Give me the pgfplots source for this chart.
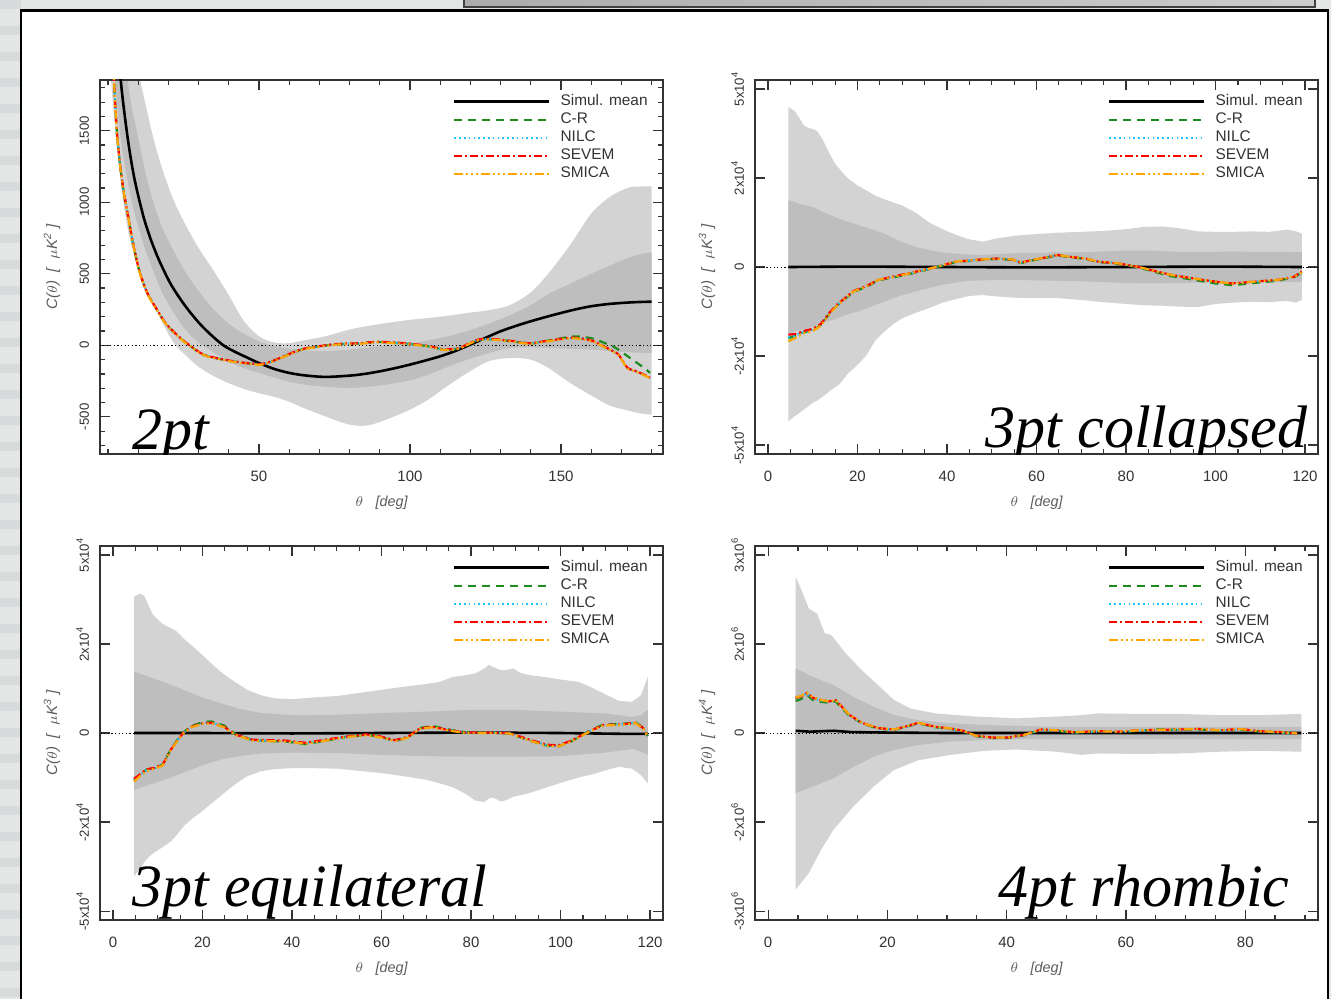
\documentclass[border=0pt]{standalone}
\usepackage{fontspec}
\setmainfont{Liberation Sans}
\newfontfamily\tnr{Liberation Serif}
\usepackage{pgfplots}
\pgfplotsset{compat=1.18}
\usepackage{pgfplotstable}
\usepgfplotslibrary{fillbetween}

\pgfdeclarelayer{bglayer}
\pgfplotsset{
  layers/mybg/.define layer set={bglayer,axis background,axis grid,axis ticks,axis lines,axis tick labels,pre main,main,axis descriptions,axis foreground}{},
  set layers=mybg,
}

\definecolor{bandlight}{HTML}{D3D3D3}
\definecolor{banddark}{HTML}{BEBEBE}
\definecolor{crgreen}{HTML}{1E8B1E}
\definecolor{nilccyan}{HTML}{1EC3FF}
\definecolor{sevemred}{HTML}{FF0000}
\definecolor{smicaorange}{HTML}{FFA500}
\definecolor{axisgray}{HTML}{333333}
\definecolor{bggray}{HTML}{E4E6E6}
\definecolor{bgstripe}{HTML}{D8DBDB}

\tikzset{
  meanline/.style={black, line width=1.3pt},
  crline/.style={crgreen, line width=1.1pt, dash pattern=on 4pt off 3pt},
  nilcline/.style={nilccyan, line width=1.1pt, dash pattern=on 0.8pt off 1.6pt},
  sevemline/.style={sevemred, line width=1.1pt, dash pattern=on 4pt off 1.5pt on 1pt off 1.5pt},
  smicaline/.style={smicaorange, line width=1.1pt, dash pattern=on 4.5pt off 1.5pt on 1pt off 1.5pt on 1pt off 1.5pt on 1pt off 1.5pt},
  zeroline/.style={black, line width=0.45pt, dash pattern=on 0.6pt off 1.2pt},
}

\newcommand{\ylab}[1]{\itshape C($\theta$)\ \ [\ \ $\mu$K\textsuperscript{#1}\ ]}

\pgfplotsset{
  panel/.style={
    scale only axis, width=281.5pt, height=187pt,
    axis line style={axisgray, line width=0.7pt},
    tick style={axisgray, line width=0.6pt},
    tick align=inside,
    major tick length=5pt, minor tick length=2.5pt,
    xticklabel style={font=\fontsize{7.5}{8}\selectfont, text=axisgray},
    yticklabel style={font=\fontsize{6.6}{7}\selectfont, text=axisgray, rotate=90, anchor=south},
    xticklabel shift=5pt, yticklabel shift=2pt,
    every axis x label/.style={at={(axis description cs:0.5,-0.131)}, anchor=center, font=\fontsize{7.2}{8}\selectfont\itshape, text=axisgray!80},
    every axis y label/.style={at={(axis description cs:-0.0853,0.5)}, rotate=90, anchor=center, font=\fontsize{7.5}{8}\selectfont, text=axisgray!80},
    xlabel={$\theta$\ \ \ [deg]},
    legend image code/.code={\draw[##1] (0pt,0pt) -- (47.5pt,0pt);},
    legend cell align=left,
    legend style={at={(rel axis cs:0.627,0.966)}, anchor=north west, draw=none, fill=none,
      inner sep=0pt, outer sep=0pt, row sep=0pt, column sep=5pt,
      font=\fontsize{7.7}{8}\selectfont, text=axisgray,
      nodes={inner sep=0pt, text height=6.5pt, text depth=2.5pt}},
  },
  ytpanel/.style={
    ymin=-4.2, ymax=4.2, ytick={-4,-2,0,2,4},
    yticklabels={{-5x10\textsuperscript{#1}},{-2x10\textsuperscript{#1}},0,{2x10\textsuperscript{#1}},{5x10\textsuperscript{#1}}},
  },
}

\pgfplotstableread{
x cr nilc sevem smica
1 2600 2600 2610 2590
1.5 2150 2150 2155 2145
2 1850 1850 1855 1845
2.5 1640 1640 1644 1636
3.1 1450 1450 1454 1446
4 1260 1260 1264 1256
5 1100 1100 1103 1097
5.8 1000 1000 1003 998
7 860 860 862 858
8.5 690 690 692 688
10.5 510 510 512 508
13 365 365 367 363
16 255 255 257 253
19 155 155 157 153
22 88 88 90 86
25 30 30 32 28
27.4 -7 -7 -5 -9
29.5 -40 -40 -38 -42
31.5 -65 -65 -63 -67
33.5 -80 -80 -78 -82
35.5 -89 -89 -87 -91
38 -100 -100 -98 -102
41 -112 -112 -110 -114
45 -124 -124 -122 -126
48 -130 -130 -128 -132
50 -135 -135 -133 -137
52 -128 -128 -126 -130
54.5 -112 -112 -110 -114
57 -90 -90 -88 -92
61 -54 -54 -52 -56
64 -30 -30 -28 -32
66.6 -19 -19 -17 -21
70 -8 -8 -6 -10
74.7 5 5 7 3
79 10 10 12 8
83 12 12 14 10
86 18 18 20 16
89.6 23 23 25 21
94 18 18 20 16
99 12 12 14 10
104.5 -2 -2 0 -4
108 -15 -15 -13 -17
111 -30 -30 -28 -32
114 -28 -28 -26 -30
116.6 -19 -19 -17 -21
119 5 5 7 3
121 25 25 27 23
123 40 40 42 38
126 42 42 44 40
129 40 40 42 38
132 32 32 34 30
134 28 28 30 26
137 18 18 20 16
140 12 12 14 10
142.5 20 20 22 18
145 30 28 30 26
149 45 40 42 38
153 60 51 53 49
156 62 48 50 46
158.5 55 40 42 38
161 45 25 27 23
164 20 -7 -5 -9
167 -5 -40 -38 -42
169 -30 -65 -63 -67
172 -75 -159 -157 -161
174 -105 -175 -173 -177
176 -135 -193 -191 -195
178 -165 -212 -210 -214
179.5 -193 -228 -226 -230
}\dataA

\pgfplotstableread{
x cr nilc sevem smica
4.55 -1.60 -1.58 -1.52 -1.67
6.4 -1.53 -1.53 -1.50 -1.58
8.2 -1.46 -1.45 -1.43 -1.48
10 -1.42 -1.41 -1.39 -1.44
11.8 -1.31 -1.30 -1.28 -1.32
13.7 -1.05 -1.04 -1.03 -1.06
15.5 -0.86 -0.85 -0.84 -0.86
17.3 -0.71 -0.70 -0.69 -0.70
19.1 -0.56 -0.55 -0.54 -0.55
21.9 -0.45 -0.44 -0.43 -0.44
24.6 -0.30 -0.29 -0.29 -0.29
28.2 -0.23 -0.22 -0.21 -0.22
31.9 -0.15 -0.14 -0.13 -0.14
35.5 -0.06 -0.05 -0.05 -0.05
38.3 0.01 0.02 0.02 0.02
41.9 0.11 0.12 0.12 0.12
46.4 0.15 0.16 0.16 0.16
51 0.18 0.19 0.19 0.19
54.6 0.16 0.17 0.17 0.17
56.5 0.09 0.10 0.10 0.10
59.2 0.15 0.16 0.16 0.16
62.8 0.22 0.23 0.23 0.23
64.7 0.26 0.27 0.27 0.27
67.4 0.22 0.23 0.23 0.23
71 0.18 0.19 0.19 0.19
73.8 0.11 0.12 0.12 0.12
78.3 0.07 0.08 0.08 0.08
82.9 -0.01 0.00 0.00 0.00
85.6 -0.09 -0.07 -0.07 -0.07
90.2 -0.21 -0.18 -0.18 -0.18
94.7 -0.28 -0.25 -0.25 -0.25
100 -0.37 -0.33 -0.33 -0.33
103.8 -0.41 -0.37 -0.37 -0.37
108.4 -0.36 -0.33 -0.33 -0.33
113.8 -0.31 -0.29 -0.29 -0.29
117.5 -0.23 -0.22 -0.22 -0.22
119.3 -0.13 -0.12 -0.10 -0.12
}\dataB

\pgfplotstableread{
x cr nilc sevem smica
4.7 -1.07 -1.05 -1.03 -1.09
6 -0.95 -0.95 -0.93 -0.97
7.5 -0.82 -0.83 -0.82 -0.85
9.3 -0.78 -0.79 -0.78 -0.80
11.1 -0.71 -0.72 -0.71 -0.73
12.9 -0.37 -0.38 -0.38 -0.39
14.5 -0.14 -0.15 -0.15 -0.16
15.7 0.01 0.0 0.0 -0.01
17.5 0.16 0.14 0.14 0.13
20.2 0.25 0.22 0.22 0.21
22 0.26 0.23 0.23 0.22
24.8 0.17 0.14 0.14 0.13
27.5 -0.03 -0.04 -0.04 -0.05
31.2 -0.16 -0.16 -0.15 -0.17
33.9 -0.18 -0.17 -0.16 -0.18
38.5 -0.19 -0.18 -0.17 -0.19
43 -0.25 -0.23 -0.22 -0.24
47.6 -0.17 -0.16 -0.15 -0.17
52.1 -0.09 -0.08 -0.08 -0.09
56.7 -0.04 -0.04 -0.03 -0.05
59.4 -0.08 -0.08 -0.07 -0.09
63 -0.18 -0.17 -0.16 -0.18
65.8 -0.11 -0.10 -0.09 -0.11
68.5 0.11 0.10 0.10 0.09
71.3 0.16 0.14 0.14 0.13
74.9 0.08 0.07 0.07 0.06
78.5 0.02 0.01 0.01 0.00
84 0.01 0.01 0.01 0.00
88.6 -0.01 0.0 0.0 -0.01
93.1 -0.17 -0.16 -0.15 -0.17
96.8 -0.28 -0.27 -0.26 -0.28
99.5 -0.30 -0.29 -0.28 -0.30
102.2 -0.20 -0.19 -0.18 -0.20
105.9 0.02 0.01 0.01 0.00
109.5 0.19 0.18 0.18 0.17
113.2 0.20 0.19 0.19 0.18
116.8 0.24 0.23 0.23 0.22
118.6 0.11 0.10 0.10 0.09
119.5 -0.07 -0.08 -0.08 -0.09
}\dataC

\pgfplotstableread{
x cr nilc sevem smica
4.6 0.72 0.78 0.79 0.80
5.5 0.76 0.81 0.82 0.83
6.5 0.86 0.89 0.90 0.90
7.5 0.74 0.78 0.79 0.80
8.9 0.70 0.73 0.74 0.74
10.2 0.68 0.70 0.71 0.71
11.3 0.71 0.73 0.74 0.74
12.3 0.57 0.59 0.60 0.60
13.6 0.39 0.40 0.41 0.41
15.7 0.22 0.22 0.23 0.23
18.4 0.10 0.10 0.11 0.11
21.1 0.07 0.07 0.08 0.08
23.2 0.14 0.14 0.15 0.15
25.2 0.22 0.22 0.23 0.23
28 0.13 0.13 0.14 0.14
30.7 0.09 0.09 0.10 0.10
32.7 0.04 0.04 0.05 0.05
34.8 -0.07 -0.07 -0.06 -0.06
37.5 -0.11 -0.10 -0.10 -0.10
40.2 -0.11 -0.10 -0.10 -0.10
43 -0.05 -0.04 -0.04 -0.04
45.7 0.07 0.07 0.08 0.08
48.4 0.05 0.05 0.06 0.06
51.2 0.01 0.01 0.02 0.02
55.3 0.03 0.03 0.04 0.04
58.7 0.02 0.02 0.03 0.03
62.1 0.05 0.05 0.06 0.06
65.5 0.08 0.07 0.07 0.07
68.9 0.07 0.07 0.08 0.08
72.3 0.08 0.08 0.09 0.09
75.7 0.05 0.05 0.06 0.06
79.1 0.08 0.08 0.09 0.09
82.5 0.03 0.03 0.04 0.04
86 0.01 0.01 0.02 0.02
88.7 -0.02 -0.02 -0.01 -0.01
}\dataD

\begin{document}
\begin{tikzpicture}

%================ 2pt =================
\begin{axis}[panel, at={(50pt,-227pt)},
  xmin=-2.65, xmax=183.8, ymin=-760, ymax=1855,
  xtick={50,100,150}, xticklabels={50,100,150}, minor xtick={0,10,...,180},
  ytick={-500,0,500,1000,1500}, yticklabels={-500,0,500,1000,1500},
  minor ytick={-700,-600,...,1800},
  ylabel={\ylab{2}}]
\addplot[name path=h2, draw=none, forget plot, smooth] table {
x y
1 6000
2 5000
3 4000
4 3300
5 2900
6.5 2500
8 2200
10 1920
12.5 1680
15 1450
18 1230
22 1000
26 830
30 680
35 520
40 350
45 170
50 63
55 20
60 15
65 35
72 63
80 110
86 135
92 155
100 178
106 191
112 205
119 226
126 245
133 280
140 370
146 506
153 700
160 920
166 1035
172 1100
176 1110
180 1112
};
\addplot[name path=l2, draw=none, forget plot, smooth] table {
x y
1 1850
2 1600
3 1380
4 1180
5 1010
6.5 820
8 680
10 540
12.5 400
15 290
18 160
22 10
26 -75
30 -150
35 -215
40 -265
45 -305
50 -335
55 -360
60 -395
65 -440
72 -497
80 -555
86 -560
92 -520
100 -450
106 -380
112 -290
119 -193
126 -112
133 -89
140 -100
146 -160
153 -263
160 -350
166 -420
172 -455
176 -475
180 -485
};
\addplot[name path=h1, draw=none, forget plot, smooth] table {
x y
1 5000
2 4000
3 3200
4 2600
5 2200
6.5 1858
8 1650
10 1450
12.5 1200
15 1000
18 820
22 650
26 500
30 380
35 250
40 150
45 80
50 28
55 -5
60 -22
65 -35
72 -40
80 -30
86 -15
92 0
100 10
106 35
112 60
119 100
126 150
133 210
140 280
146 360
153 430
160 500
166 555
172 610
176 635
180 650
};
\addplot[name path=l1, draw=none, forget plot, smooth] table {
x y
1 2600
2 2000
3 1700
4 1480
5 1330
6.5 1150
8 990
10 830
12.5 660
15 520
18 366
22 220
26 100
30 20
35 -50
40 -115
45 -160
50 -193
55 -225
60 -255
65 -275
72 -290
80 -298
86 -290
92 -275
100 -245
106 -205
112 -155
119 -100
126 -55
133 -19
140 -15
146 -19
153 -25
160 -30
166 -40
172 -48
176 -52
180 -54
};
\addplot[bandlight, forget plot] fill between[of=h2 and l2];
\addplot[banddark, forget plot] fill between[of=h1 and l1];
\addplot[zeroline, forget plot] coordinates {(-10,0) (200,0)};
\addplot[meanline, smooth] table {
x y
1 3000
2 2500
3 2150
4.2 1858
5 1700
6 1530
7 1380
8 1250
9 1140
10.3 1020
12 880
14 750
16 640
18 545
21 420
25.4 280
30 160
34 75
38.2 0
42 -45
46 -85
50 -124
55 -165
60 -193
65 -210
72 -221
80 -212
85 -200
90 -182
95 -160
100 -135
105 -107
110 -77
115 -40
120 5
125 52
130 98
135 135
140 168
145 198
150 226
155 252
160 273
165 287
170 296
175 302
180 305
};
\addlegendentry{Simul. mean}
\addplot[crline, smooth] table[x=x,y=cr] {\dataA}; \addlegendentry{C-R}
\addplot[nilcline, smooth] table[x=x,y=nilc] {\dataA}; \addlegendentry{NILC}
\addplot[sevemline, smooth] table[x=x,y=sevem] {\dataA}; \addlegendentry{SEVEM}
\addplot[smicaline, smooth] table[x=x,y=smica] {\dataA}; \addlegendentry{SMICA}
\node[anchor=base west, inner sep=0pt, font=\tnr\itshape\fontsize{30}{30}\selectfont] at (rel axis cs:0.0568,0.0107) {2pt};
\end{axis}

%================ 3pt collapsed =================
\begin{axis}[panel, ytpanel=4, at={(377.5pt,-227pt)},
  xmin=-2.9, xmax=122.9,
  xtick={0,20,...,120}, xticklabels={0,20,40,60,80,100,120}, minor xtick={0,5,...,120},
  ylabel={\ylab{3}}]
\addplot[name path=h2, draw=none, forget plot] table {
x y
4.55 3.59
6 3.5
7 3.35
8 3.18
9 3.12
10 3.1
11 3.05
12 2.9
13 2.7
14 2.5
15 2.32
16 2.2
17 2.08
18 1.98
20 1.83
22 1.72
24 1.6
26 1.52
28 1.45
30 1.38
33 1.22
36 1.0
39 0.85
42 0.72
45 0.62
48 0.57
51 0.64
55 0.7
60 0.74
65 0.77
70 0.79
75 0.81
80 0.85
84 0.9
88 0.91
92 0.87
96 0.8
100 0.79
104 0.79
108 0.8
112 0.79
116 0.84
118 0.8
119.3 0.75
};
\addplot[name path=l2, draw=none, forget plot] table {
x y
4.55 -3.46
6 -3.35
7 -3.28
8 -3.2
9 -3.13
10 -3.05
11 -3.0
12 -2.93
13 -2.85
14 -2.77
15 -2.7
16 -2.63
17 -2.5
18 -2.38
20 -2.2
22 -1.98
24 -1.65
26 -1.45
28 -1.28
30 -1.15
33 -1.03
36 -0.92
39 -0.8
42 -0.72
45 -0.65
48 -0.63
51 -0.66
55 -0.69
60 -0.7
65 -0.7
70 -0.74
75 -0.79
80 -0.83
84 -0.86
88 -0.87
92 -0.89
96 -0.9
100 -0.83
104 -0.8
108 -0.78
112 -0.79
116 -0.76
118 -0.8
119.3 -0.74
};
\addplot[name path=h1, draw=none, forget plot] table {
x y
4.55 1.5
6 1.46
7 1.42
8 1.4
9 1.37
10 1.35
11 1.3
12 1.25
13 1.2
14 1.16
15 1.12
16 1.08
17 1.04
18 1.01
20 0.95
22 0.88
24 0.82
26 0.75
28 0.65
30 0.56
33 0.45
36 0.38
39 0.33
42 0.3
45 0.28
48 0.27
51 0.29
55 0.31
60 0.32
65 0.33
70 0.33
75 0.35
80 0.37
84 0.37
88 0.36
92 0.34
96 0.34
100 0.34
104 0.35
108 0.34
112 0.34
116 0.34
119.3 0.33
};
\addplot[name path=l1, draw=none, forget plot] table {
x y
4.55 -1.49
6 -1.45
7 -1.42
8 -1.4
9 -1.37
10 -1.34
11 -1.3
12 -1.27
13 -1.23
14 -1.2
15 -1.17
16 -1.13
17 -1.09
18 -1.06
20 -1.0
22 -0.93
24 -0.85
26 -0.78
28 -0.7
30 -0.63
33 -0.55
36 -0.47
39 -0.4
42 -0.35
45 -0.31
48 -0.3
51 -0.29
55 -0.29
60 -0.3
65 -0.31
70 -0.32
75 -0.34
80 -0.36
84 -0.37
88 -0.37
92 -0.36
96 -0.35
100 -0.35
104 -0.35
108 -0.34
112 -0.34
116 -0.34
119.3 -0.33
};
\addplot[bandlight, forget plot] fill between[of=h2 and l2];
\addplot[banddark, forget plot] fill between[of=h1 and l1];
\addplot[zeroline, forget plot] coordinates {(-10,0) (130,0)};
\addplot[meanline] table {
x y
4.55 0.0
20 0.01
40 0.0
60 -0.01
80 0.0
100 0.01
119.3 0.0
};
\addlegendentry{Simul. mean}
\addplot[crline] table[x=x,y=cr] {\dataB}; \addlegendentry{C-R}
\addplot[nilcline] table[x=x,y=nilc] {\dataB}; \addlegendentry{NILC}
\addplot[sevemline] table[x=x,y=sevem] {\dataB}; \addlegendentry{SEVEM}
\addplot[smicaline] table[x=x,y=smica] {\dataB}; \addlegendentry{SMICA}
\node[anchor=base east, inner sep=0pt, font=\tnr\itshape\fontsize{30}{30}\selectfont] at (rel axis cs:0.982,0.0187) {3pt collapsed};
\end{axis}

%================ 3pt equilateral =================
\begin{axis}[panel, ytpanel=4, at={(50pt,-460pt)},
  xmin=-2.9, xmax=122.9,
  xtick={0,20,...,120}, xticklabels={0,20,40,60,80,100,120}, minor xtick={0,5,...,120},
  ylabel={\ylab{3}}]
\addplot[name path=h2, draw=none, forget plot] table {
x y
4.7 3.06
6 3.13
7 3.08
8 2.85
9 2.65
10 2.55
11 2.46
12 2.4
13 2.35
14 2.3
16 2.1
18 1.93
20 1.75
22 1.56
24 1.38
26 1.23
28 1.1
30 0.97
33 0.85
36 0.78
40 0.76
45 0.8
50 0.83
55 0.9
60 0.97
65 1.04
70 1.1
73 1.15
76 1.26
79 1.3
81 1.34
83 1.45
84 1.53
85 1.48
86.7 1.41
88 1.42
89.5 1.45
91 1.35
93 1.3
97 1.25
100 1.2
104 1.15
107 1.02
110 0.87
113 0.72
116 0.7
118 0.85
119.5 1.26
};
\addplot[name path=l2, draw=none, forget plot] table {
x y
4.7 -3.22
6 -3.05
7 -2.9
8 -2.78
9 -2.7
10 -2.63
11 -2.57
12 -2.5
13 -2.43
14 -2.32
16 -2.07
18 -1.9
20 -1.75
22 -1.58
24 -1.42
26 -1.25
28 -1.1
30 -0.97
33 -0.86
36 -0.81
40 -0.79
45 -0.79
50 -0.8
55 -0.85
60 -0.9
65 -0.97
70 -1.05
73 -1.13
76 -1.22
79 -1.38
81 -1.52
83 -1.55
84 -1.47
85 -1.45
86.7 -1.54
88 -1.5
89.5 -1.43
91 -1.4
93 -1.35
97 -1.22
100 -1.12
104 -1.0
107 -0.93
110 -0.84
113 -0.76
116 -0.8
118 -0.95
119.5 -1.13
};
\addplot[name path=h1, draw=none, forget plot] table {
x y
4.7 1.38
7 1.3
10 1.19
13 1.08
16 0.96
20 0.8
24 0.67
28 0.55
33 0.45
40 0.4
50 0.41
60 0.45
70 0.48
80 0.52
90 0.52
100 0.48
110 0.44
116 0.36
118 0.4
119.5 0.52
};
\addplot[name path=l1, draw=none, forget plot] table {
x y
4.7 -1.28
7 -1.2
10 -1.1
13 -1.0
16 -0.88
20 -0.72
24 -0.6
28 -0.52
33 -0.46
40 -0.44
50 -0.45
60 -0.49
70 -0.52
80 -0.53
90 -0.53
100 -0.52
110 -0.44
116 -0.36
118 -0.42
119.5 -0.49
};
\addplot[bandlight, forget plot] fill between[of=h2 and l2];
\addplot[banddark, forget plot] fill between[of=h1 and l1];
\addplot[zeroline, forget plot] coordinates {(-10,0) (130,0)};
\addplot[meanline] table {
x y
4.7 0.0
20 0.0
40 -0.01
60 0.0
80 0.01
100 0.0
115 -0.02
119.5 -0.02
};
\addlegendentry{Simul. mean}
\addplot[crline] table[x=x,y=cr] {\dataC}; \addlegendentry{C-R}
\addplot[nilcline] table[x=x,y=nilc] {\dataC}; \addlegendentry{NILC}
\addplot[sevemline] table[x=x,y=sevem] {\dataC}; \addlegendentry{SEVEM}
\addplot[smicaline] table[x=x,y=smica] {\dataC}; \addlegendentry{SMICA}
\node[anchor=base west, inner sep=0pt, font=\tnr\itshape\fontsize{30}{30}\selectfont] at (rel axis cs:0.0568,0.0348) {3pt equilateral};
\end{axis}

%================ 4pt rhombic =================
\begin{axis}[panel, ytpanel=6, at={(377.5pt,-460pt)},
  xmin=-2.2, xmax=92.2,
  yticklabels={{-3x10\textsuperscript{6}},{-2x10\textsuperscript{6}},0,{2x10\textsuperscript{6}},{3x10\textsuperscript{6}}},
  xtick={0,20,...,80}, xticklabels={0,20,40,60,80}, minor xtick={0,5,...,90},
  ylabel={\ylab{4}}]
\addplot[name path=h2, draw=none, forget plot] table {
x y
4.6 3.51
5.5 3.24
6.8 2.8
8.2 2.68
9.5 2.24
10.6 2.2
13 1.79
15.7 1.41
18.4 1.08
21.1 0.74
23.9 0.55
28 0.44
34.8 0.37
41.6 0.33
48.4 0.37
52.5 0.4
55.3 0.44
62.1 0.43
68.9 0.43
75.7 0.4
82.5 0.4
89.4 0.43
};
\addplot[name path=l2, draw=none, forget plot] table {
x y
4.6 -3.52
6.8 -3.15
8.9 -2.62
10.9 -2.18
14.3 -1.65
17.7 -1.2
21.1 -0.83
25.2 -0.61
30.7 -0.49
36.2 -0.4
41.6 -0.37
48.4 -0.42
52.5 -0.49
55.3 -0.46
62.1 -0.47
68.9 -0.46
75.7 -0.42
82.5 -0.4
89.4 -0.42
};
\addplot[name path=h1, draw=none, forget plot] table {
x y
4.6 1.45
7.5 1.26
10.9 1.08
14.3 0.81
17.7 0.59
21.1 0.4
25.2 0.29
30.7 0.22
36.2 0.18
41.6 0.16
48.4 0.14
89.4 0.14
};
\addplot[name path=l1, draw=none, forget plot] table {
x y
4.6 -1.35
7.5 -1.2
10.9 -1.02
14.3 -0.76
17.7 -0.53
21.1 -0.38
25.2 -0.27
30.7 -0.19
36.2 -0.16
41.6 -0.14
89.4 -0.14
};
\addplot[bandlight, forget plot] fill between[of=h2 and l2];
\addplot[banddark, forget plot] fill between[of=h1 and l1];
\addplot[zeroline, forget plot] coordinates {(-10,0) (100,0)};
\addplot[meanline] table {
x y
4.6 0.05
7 0.03
9 0.04
11 0.05
14 0.02
20 0.01
30 0.0
50 0.0
89.4 0.0
};
\addlegendentry{Simul. mean}
\addplot[crline] table[x=x,y=cr] {\dataD}; \addlegendentry{C-R}
\addplot[nilcline] table[x=x,y=nilc] {\dataD}; \addlegendentry{NILC}
\addplot[sevemline] table[x=x,y=sevem] {\dataD}; \addlegendentry{SEVEM}
\addplot[smicaline] table[x=x,y=smica] {\dataD}; \addlegendentry{SMICA}
\node[anchor=base east, inner sep=0pt, font=\tnr\itshape\fontsize{30}{30}\selectfont] at (rel axis cs:0.950,0.0348) {4pt rhombic};
\end{axis}

\pgfsetlayers{bglayer,axis background,axis grid,axis ticks,axis lines,axis tick labels,pre main,main,axis descriptions,axis foreground}
\begin{pgfonlayer}{bglayer}
\begin{scope}[x=0.5pt,y=-0.5pt]
  \fill[bggray] (0,0) rectangle (1331,999);
  \foreach \yy in {0,26,...,999} {\fill[bgstripe] (0,\yy) rectangle (21,\yy+9);}
  \shade[left color=gray!65, right color=gray!40] (464,0) rectangle (1315,7);
  \draw[black!75, line width=0.6pt] (464,0) -- (464,7) -- (1315,7) -- (1315,0);
  \fill[white] (21,10.5) rectangle (1328,999);
  \draw[black, line width=1.2pt] (21,999) -- (21,10.5) -- (1328,10.5) -- (1328,999);
\end{scope}
\end{pgfonlayer}
\pgfresetboundingbox
\useasboundingbox (0,0) rectangle (665.5pt,-499.5pt);
\end{tikzpicture}
\end{document}
